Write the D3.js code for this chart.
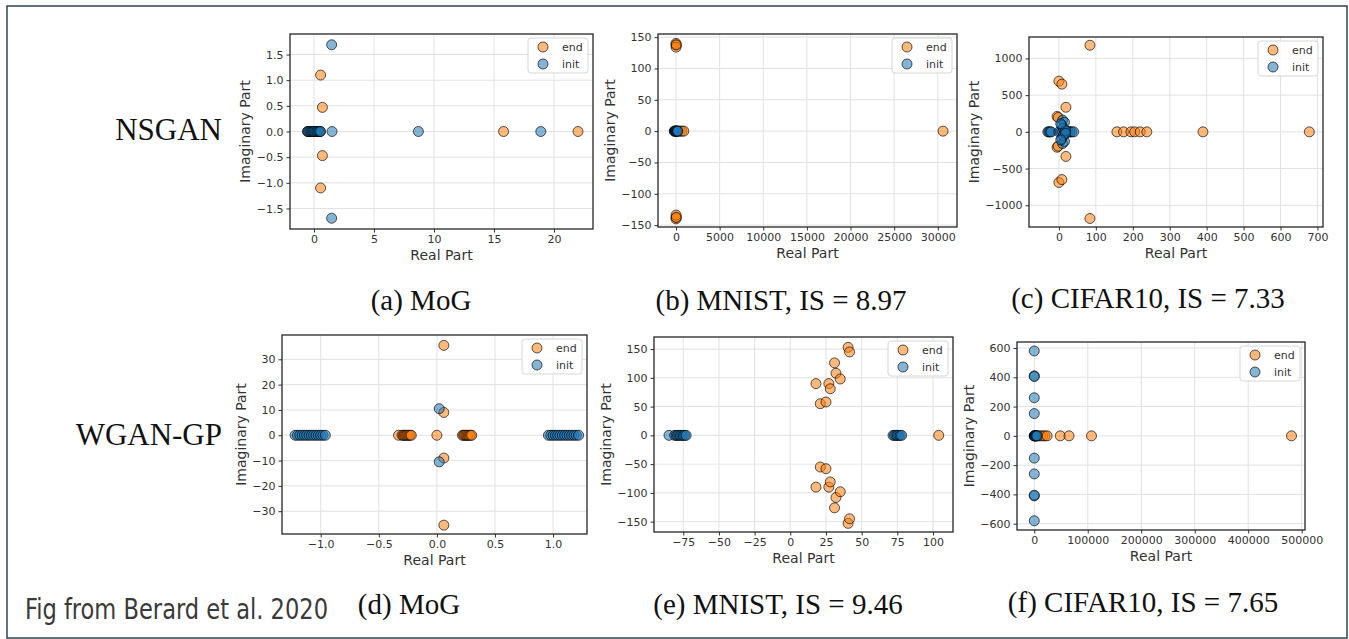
<!DOCTYPE html>
<html>
<head>
<meta charset="utf-8">
<script src="https://cdn.jsdelivr.net/npm/d3@7"></script>
<style>
body { margin: 0; background: #fff; }
svg text { font-family: "DejaVu Sans", sans-serif; }
</style>
</head>
<body>
<div id="chart"></div>
<script>
// eigenvalues: real part / imaginary part, "end" and "init"

// (a) NSGAN, MoG
const aEndRe  = [0.55, 0.7, 0.7, 0.55, 15.8, 22.0, -0.5, -0.3, 0.1, 0.3, 0.5];
const aEndIm  = [1.1, 0.47, -0.47, -1.1, 0, 0, 0, 0, 0, 0, 0];
const aInitRe = [1.47, 1.47, 1.5, 8.7, 18.9, -0.55, -0.45, -0.35, -0.25, -0.15, -0.05, 0.05, 0.15, 0.25, 0.35, 0.45, 0.55];
const aInitIm = [1.69, -1.69, 0, 0, 0, 0, 0, 0, 0, 0, 0, 0, 0, 0, 0, 0, 0];

// (b) NSGAN, MNIST
const bEndRe  = [0, 20, 10, 30, 0, 20, 10, 30, 300, 500, 700, 900, 30600];
const bEndIm  = [140, 137, 134, 138, -140, -137, -134, -138, 0, 0, 0, 0, 0];
const bInitRe = [-200, -150, -100, -50, 0, 50, 100, 150, 200];
const bInitIm = [0, 0, 0, 0, 0, 0, 0, 0, 0];

// (c) NSGAN, CIFAR10
const cEndRe  = [84, 84, 0, 8, 0, 8, 19, 19, -5, -2, -5, -2, 157, 175, 195, 205, 220, 238, 390, 678, 25, 30];
const cEndIm  = [1180, -1180, 690, 650, -690, -650, 335, -335, 210, 195, -210, -195, 0, 0, 0, 0, 0, 0, 0, 0, 0, 0];
const cInitRe = [-30, -27, -24, -21, 0, 5, 10, 15, 20, 25, 30, 35, 40, 10, 10, 15, 15, 8, 8, 12, 12, 18, 18, 5, 5];
const cInitIm = [0, 0, 0, 0, 0, 0, 0, 0, 0, 0, 0, 0, 0, 160, -160, 130, -130, 90, -90, 50, -50, 20, -20, 110, -110];

// (d) WGAN-GP, MoG
const dEndRe  = [-0.33, -0.3, -0.29, -0.28, -0.27, -0.26, -0.25, -0.24, -0.23, -0.22,
                 0.22, 0.23, 0.24, 0.25, 0.26, 0.27, 0.28, 0.29, 0.3, 0.0, 0.06, 0.06, 0.06, 0.06];
const dEndIm  = [0, 0, 0, 0, 0, 0, 0, 0, 0, 0, 0, 0, 0, 0, 0, 0, 0, 0, 0, 0, 9, -9, 35.5, -35.5];
const dInitRe = [-1.22, -1.2, -1.18, -1.16, -1.14, -1.12, -1.1, -1.08, -1.06, -1.04, -1.02, -1.0, -0.98, -0.96,
                 0.96, 0.98, 1.0, 1.02, 1.04, 1.06, 1.08, 1.1, 1.12, 1.14, 1.16, 1.18, 1.2, 1.22, 0.02, 0.02];
const dInitIm = [0, 0, 0, 0, 0, 0, 0, 0, 0, 0, 0, 0, 0, 0,
                 0, 0, 0, 0, 0, 0, 0, 0, 0, 0, 0, 0, 0, 0, 10.5, -10.5];

// (e) WGAN-GP, MNIST
const eEndRe  = [40.5, 41.5, 31, 32, 35, 18, 27, 28, 21, 25,
                 40.5, 41.5, 31, 32, 35, 18, 27, 28, 21, 25, 104];
const eEndIm  = [153, 145, 126, 108, 98, 90, 90, 81, 55, 58,
                 -153, -145, -126, -108, -98, -90, -90, -81, -55, -58, 0];
const eInitRe = [-85, -81, -80, -79, -78, -77, -76, -75, -74, -73, 72, 73, 74, 75, 76, 77, 78];
const eInitIm = [0, 0, 0, 0, 0, 0, 0, 0, 0, 0, 0, 0, 0, 0, 0, 0, 0];

// (f) WGAN-GP, CIFAR10
const fEndRe  = [4000, 8000, 12000, 16000, 20000, 24000, 48600, 65000, 107000, 481000];
const fEndIm  = [0, 0, 0, 0, 0, 0, 0, 0, 0, 0];
const fInitRe = [0, 0, 0, 0, 0, 0, 0, 0, 0, 0, 0, 0, 0, 1000, 2000, 3000, 4000, 5000];
const fInitIm = [580, -580, 410, -410, 405, -405, 260, -260, 152, -152, 0, 0, 0, 0, 0, 0, 0, 0];

// axis limits and ticks
const aXDom = [-2.0, 23.25],   aYDom = [-1.9, 1.9];
const bXDom = [-2060, 32200],  bYDom = [-153, 155];
const cXDom = [-81, 715],      cYDom = [-1296, 1292];
const dXDom = [-1.333, 1.292], dYDom = [-39, 39.6];
const eXDom = [-95.5, 114],    eYDom = [-168, 171];
const fXDom = [-32300, 506200], fYDom = [-643, 641];

const aXTicks = [0, 5, 10, 15, 20],                  aYTicks = [-1.5, -1.0, -0.5, 0.0, 0.5, 1.0, 1.5];
const bXTicks = [0, 5000, 10000, 15000, 20000, 25000, 30000], bYTicks = [-150, -100, -50, 0, 50, 100, 150];
const cXTicks = [0, 100, 200, 300, 400, 500, 600, 700], cYTicks = [-1000, -500, 0, 500, 1000];
const dXTicks = [-1.0, -0.5, 0.0, 0.5, 1.0],          dYTicks = [-30, -20, -10, 0, 10, 20, 30];
const eXTicks = [-75, -50, -25, 0, 25, 50, 75, 100],  eYTicks = [-150, -100, -50, 0, 50, 100, 150];
const fXTicks = [0, 100000, 200000, 300000, 400000, 500000], fYTicks = [-600, -400, -200, 0, 200, 400, 600];

const captions = ["(a) MoG", "(b) MNIST, IS = 8.97", "(c) CIFAR10, IS = 7.33",
                  "(d) MoG", "(e) MNIST, IS = 9.46", "(f) CIFAR10, IS = 7.65"];
const rowLabels = ["NSGAN", "WGAN-GP"];
const seriesNames = ["end", "init"];
const source = "Fig from Berard et al. 2020";

const W = 1349, H = 639;
const orange = "#ff7f0e", blue = "#1f77b4";

const svg = d3.select("#chart").append("svg")
    .attr("width", W).attr("height", H);

// outer frame of the slide
svg.append("rect")
    .attr("x", 7).attr("y", 6).attr("width", 1340).attr("height", 632)
    .attr("fill", "none").attr("stroke", "#2d4452").attr("stroke-width", 1.5);

// panel boxes: [left, top, right, bottom]
const panels = [
  {box: [290, 34, 593, 229],  xd: aXDom, yd: aYDom, xt: aXTicks, yt: aYTicks, xf: "d",   yf: ".1f",
   er: aEndRe, ei: aEndIm, ir: aInitRe, ii: aInitIm, cap: captions[0], cx: 421, cy: 310},
  {box: [658, 34, 957, 227],  xd: bXDom, yd: bYDom, xt: bXTicks, yt: bYTicks, xf: "d",   yf: "d",
   er: bEndRe, ei: bEndIm, ir: bInitRe, ii: bInitIm, cap: captions[1], cx: 781, cy: 310},
  {box: [1029, 37, 1323, 227], xd: cXDom, yd: cYDom, xt: cXTicks, yt: cYTicks, xf: "d",  yf: "d",
   er: cEndRe, ei: cEndIm, ir: cInitRe, ii: cInitIm, cap: captions[2], cx: 1148, cy: 308},
  {box: [282, 335, 587, 534], xd: dXDom, yd: dYDom, xt: dXTicks, yt: dYTicks, xf: ".1f", yf: "d",
   er: dEndRe, ei: dEndIm, ir: dInitRe, ii: dInitIm, cap: captions[3], cx: 409, cy: 614},
  {box: [654, 337, 953, 532], xd: eXDom, yd: eYDom, xt: eXTicks, yt: eYTicks, xf: "d",   yf: "d",
   er: eEndRe, ei: eEndIm, ir: eInitRe, ii: eInitIm, cap: captions[4], cx: 778, cy: 614},
  {box: [1017, 342, 1305, 530], xd: fXDom, yd: fYDom, xt: fXTicks, yt: fYTicks, xf: "d", yf: "d",
   er: fEndRe, ei: fEndIm, ir: fInitRe, ii: fInitIm, cap: captions[5], cx: 1143, cy: 612}
];

function drawPanel(p) {
  const [l, t, r, b] = p.box;
  const x = d3.scaleLinear().domain(p.xd).range([l, r]);
  const y = d3.scaleLinear().domain(p.yd).range([b, t]);
  const g = svg.append("g");

  // grid
  g.append("g").selectAll("line").data(p.xt).enter().append("line")
    .attr("x1", d => x(d)).attr("x2", d => x(d)).attr("y1", t).attr("y2", b)
    .attr("stroke", "#e2e2e2").attr("stroke-width", 1);
  g.append("g").selectAll("line").data(p.yt).enter().append("line")
    .attr("y1", d => y(d)).attr("y2", d => y(d)).attr("x1", l).attr("x2", r)
    .attr("stroke", "#e2e2e2").attr("stroke-width", 1);

  // axes
  const xAxis = g.append("g").attr("transform", `translate(0,${b})`)
    .call(d3.axisBottom(x).tickValues(p.xt).tickFormat(d3.format(p.xf)).tickSize(3.5).tickPadding(3));
  const yAxis = g.append("g").attr("transform", `translate(${l},0)`)
    .call(d3.axisLeft(y).tickValues(p.yt).tickFormat(d3.format(p.yf)).tickSize(3.5).tickPadding(3));
  [xAxis, yAxis].forEach(a => {
    a.select(".domain").remove();
    a.selectAll("line").attr("stroke", "#333");
    a.selectAll("text").attr("font-size", 11).attr("fill", "#333")
      .attr("font-family", "DejaVu Sans");
  });

  // points: end first, init on top
  const endPts = p.er.map((v, i) => [v, p.ei[i]]);
  const initPts = p.ir.map((v, i) => [v, p.ii[i]]);
  [[endPts, orange], [initPts, blue]].forEach(([pts, col]) => {
    g.append("g").selectAll("circle").data(pts).enter().append("circle")
      .attr("cx", d => x(d[0])).attr("cy", d => y(d[1])).attr("r", 5)
      .attr("fill", col).attr("fill-opacity", 0.55)
      .attr("stroke", "#000").attr("stroke-opacity", 0.65).attr("stroke-width", 1);
  });

  // frame
  g.append("rect").attr("x", l).attr("y", t).attr("width", r - l).attr("height", b - t)
    .attr("fill", "none").attr("stroke", "#262626").attr("stroke-width", 1.3);

  // axis labels
  g.append("text").attr("x", (l + r) / 2).attr("y", b + 31)
    .attr("text-anchor", "middle").attr("font-size", 14).attr("fill", "#333")
    .text("Real Part");
  let maxW = 0;
  yAxis.selectAll("text").each(function() { maxW = Math.max(maxW, this.getComputedTextLength()); });
  const lx = l - maxW - 13;
  g.append("text").attr("transform", `translate(${lx},${(t + b) / 2}) rotate(-90)`)
    .attr("text-anchor", "middle").attr("font-size", 14).attr("fill", "#333")
    .text("Imaginary Part");

  // legend
  const bx = r - 65, by = t + 4;
  const lg = g.append("g");
  lg.append("rect").attr("x", bx).attr("y", by).attr("width", 60).attr("height", 35).attr("rx", 3)
    .attr("fill", "#fff").attr("fill-opacity", 0.85).attr("stroke", "#d6d6d6");
  [orange, blue].forEach((col, i) => {
    lg.append("circle").attr("cx", bx + 15).attr("cy", by + 9 + i * 17).attr("r", 5)
      .attr("fill", col).attr("fill-opacity", 0.55)
      .attr("stroke", "#000").attr("stroke-opacity", 0.65);
    lg.append("text").attr("x", bx + 34).attr("y", by + 13 + i * 17)
      .attr("font-size", 11).attr("fill", "#333").text(seriesNames[i]);
  });

  // caption
  svg.append("text").attr("x", p.cx).attr("y", p.cy).attr("text-anchor", "middle")
    .style("font-family", "'Liberation Serif', 'Times New Roman', serif")
    .attr("font-size", 29).attr("fill", "#111").text(p.cap);
}

panels.forEach(drawPanel);

// row labels
[[140, rowLabels[0]], [445, rowLabels[1]]].forEach(([yy, s]) => {
  svg.append("text").attr("x", 222).attr("y", yy).attr("text-anchor", "end")
    .style("font-family", "'Liberation Serif', 'Times New Roman', serif")
    .attr("font-size", 31).attr("fill", "#111").text(s);
});

// source note
svg.append("text").attr("x", 25).attr("y", 619)
  .style("font-family", "'Liberation Sans Narrow', 'DejaVu Sans Condensed', 'Roboto', sans-serif")
  .attr("font-size", 28).attr("fill", "#3a3a3a")
  .attr("textLength", 303).attr("lengthAdjust", "spacingAndGlyphs")
  .text(source);
</script>
</body>
</html>
